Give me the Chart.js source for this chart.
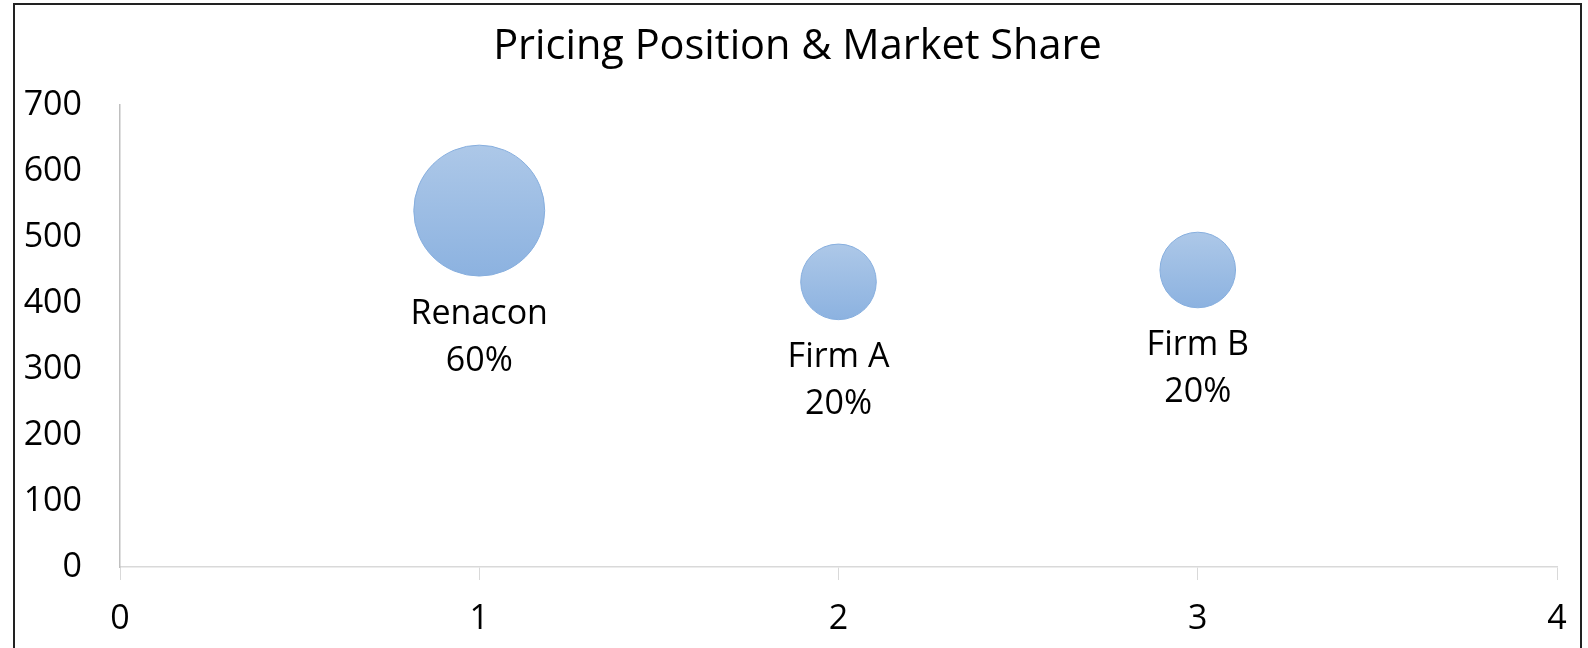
<!DOCTYPE html>
<html>
<head>
<meta charset="utf-8">
<script src="https://cdn.jsdelivr.net/npm/chart.js@4.4.1/dist/chart.umd.min.js"></script>
<style>
  html, body { margin: 0; padding: 0; background: #fff; }
  #wrap { width: 1588px; height: 648px; }
</style>
</head>
<body>
<div id="wrap"><canvas id="bubble-chart"></canvas></div>
<script>
const chartTitle = 'Pricing Position & Market Share';
const firms = ['Renacon', 'Firm A', 'Firm B'];
const positions = [1, 2, 3];
const prices = [540, 432, 450];
const shares = [60, 20, 20];
const xTicks = [0, 1, 2, 3, 4];
const yTicks = [0, 100, 200, 300, 400, 500, 600, 700];

const FONT = "'Open Sans', sans-serif";

// border around the whole chart (top/left/right visible) + title centred in the frame
const frame = {
    id: 'frame',
    afterDraw(chart) {
        const c = chart.ctx;
        c.save();
        c.strokeStyle = '#222';
        c.lineWidth = 2;
        c.beginPath();
        c.moveTo(14, 660);
        c.lineTo(14, 4);
        c.lineTo(1581, 4);
        c.lineTo(1581, 660);
        c.stroke();
        c.font = '41.5px ' + FONT;
        c.fillStyle = '#000';
        c.textAlign = 'center';
        c.textBaseline = 'middle';
        c.fillText(chartTitle, (14 + 1581) / 2, 47);
        c.restore();
    }
};

// vertical gradient per bubble
const shade = {
    id: 'shade',
    beforeDatasetsDraw(chart) {
        const c = chart.ctx;
        chart.getDatasetMeta(0).data.forEach(el => {
            const r = el.options.radius;
            const g = c.createLinearGradient(0, el.y - r, 0, el.y + r);
            g.addColorStop(0, '#adc8e8');
            g.addColorStop(1, '#8cb2e0');
            el.options.backgroundColor = g;
        });
    }
};

// name + share below each bubble
const bubbleLabels = {
    id: 'bubbleLabels',
    afterDatasetsDraw(chart) {
        const c = chart.ctx;
        c.save();
        c.font = '34px ' + FONT;
        c.fillStyle = '#000';
        c.textAlign = 'center';
        c.textBaseline = 'middle';
        chart.getDatasetMeta(0).data.forEach((el, i) => {
            const top = el.y + el.options.radius + 38;
            c.fillText(firms[i], el.x, top);
            c.fillText(shares[i] + '%', el.x, top + 47);
        });
        c.restore();
    }
};

const ctx = document.getElementById('bubble-chart').getContext('2d');
new Chart(ctx, {
    type: 'bubble',
    data: {
        datasets: [{
            label: 'Market share',
            data: positions.map((x, i) => ({ x: x, y: prices[i], r: Math.sqrt(shares[i]) * 8.45 })),
            backgroundColor: '#9dbde6',
            borderColor: '#86aede',
            borderWidth: 1
        }]
    },
    options: {
        responsive: true,
        maintainAspectRatio: false,
        animation: false,
        layout: { autoPadding: false, padding: { left: 14, right: 31, top: 105, bottom: 0 } },
        plugins: {
            legend: { display: false },
            tooltip: { enabled: false },
            title: { display: false }
        },
        scales: {
            x: {
                type: 'linear',
                min: 0, max: 4,
                afterBuildTicks: s => { s.ticks = xTicks.map(v => ({ value: v })); },
                afterFit: s => { s.height = 81; },
                grid: { drawOnChartArea: false, drawTicks: true, tickLength: 13, color: '#d9d9d9' },
                border: { color: '#d9d9d9', width: 1.5 },
                ticks: { color: '#000', padding: 19, font: { family: FONT, size: 34 } }
            },
            y: {
                type: 'linear',
                min: 0, max: 700,
                afterBuildTicks: s => { s.ticks = yTicks.map(v => ({ value: v })); },
                afterFit: s => { s.width = 106; },
                grid: { drawOnChartArea: false, drawTicks: false },
                border: { color: '#bfbfbf', width: 1.5 },
                ticks: { color: '#000', padding: 38, font: { family: FONT, size: 34 } }
            }
        }
    },
    plugins: [frame, shade, bubbleLabels]
});
</script>
</body>
</html>
